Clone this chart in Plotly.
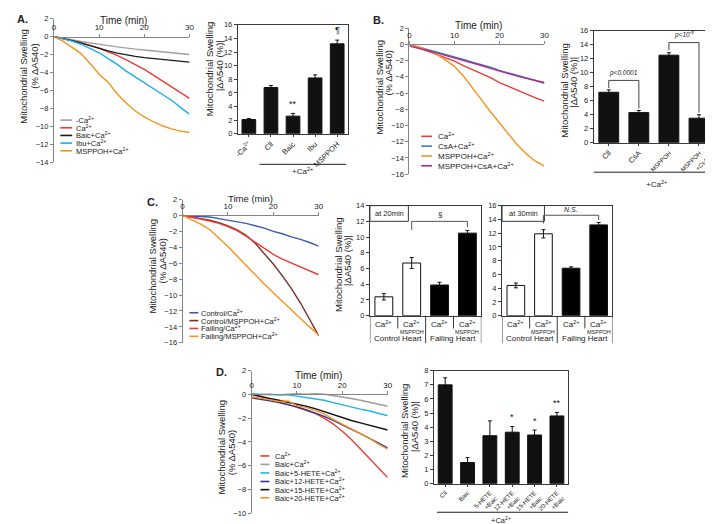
import plotly.graph_objects as go

W, H = 713, 524
FONT = "Liberation Sans, Arial, sans-serif"


def PX(x):
    return x / W


def PY(y):
    return 1 - y / H


# ------------------------------------------------------------------ data
time_min = [0, 2, 4, 6, 8, 10, 12, 14, 16, 18, 20, 22, 24, 26, 28, 30]

# Panel A – kinetics
a_labels = ["-Ca<sup>2+</sup>", "Ca<sup>2+</sup>", "Baic+Ca<sup>2+</sup>",
            "Ibu+Ca<sup>2+</sup>", "MSPPOH+Ca<sup>2+</sup>"]
a_colors = ["#a0a0a0", "#ee3b34", "#1c1c1c", "#1eaee4", "#f7921e"]
a_noca = [0, -0.15, -0.35, -0.55, -0.72, -0.9, -1.0, -1.15, -1.3, -1.4, -1.5, -1.6, -1.7, -1.8, -1.9, -2.0]
a_ca = [0, -0.2, -0.45, -0.7, -1.0, -1.3, -1.7, -2.1, -2.6, -3.1, -3.65, -4.3, -4.95, -5.6, -6.25, -6.9]
a_baic = [0, -0.2, -0.45, -0.7, -1.0, -1.35, -1.6, -1.85, -2.05, -2.2, -2.35, -2.45, -2.55, -2.65, -2.75, -2.85]
a_ibu = [0, -0.25, -0.5, -0.85, -1.3, -1.8, -2.45, -3.1, -3.85, -4.5, -5.2, -5.8, -6.4, -7.1, -7.9, -8.65]
a_msppoh = [0, -0.5, -1.2, -1.9, -3.0, -4.2, -5.1, -6.4, -7.4, -8.3, -8.95, -9.5, -9.95, -10.3, -10.55, -10.7]
a_series = [a_noca, a_ca, a_baic, a_ibu, a_msppoh]

# Panel A – bars
a_bar_cats = ["-Ca<sup>2+</sup>", "Cll", "Baic", "Ibu", "MSPPOH"]
a_bar_vals = [2.1, 6.8, 2.6, 8.2, 13.2]
a_bar_err = [0.15, 0.3, 0.4, 0.45, 0.55]
a_bar_marks = ["", "", "**", "", "¶"]

# Panel B – kinetics
b_labels = ["Ca<sup>2+</sup>", "CsA+Ca<sup>2+</sup>", "MSPPOH+Ca<sup>2+</sup>",
            "MSPPOH+CsA+Ca<sup>2+</sup>"]
b_colors = ["#ee3b34", "#3d7cc9", "#f7921e", "#b02c86"]
b_ca = [0, -0.4, -0.8, -1.2, -1.6, -2.05, -2.6, -3.1, -3.6, -4.1, -4.7, -5.2, -5.7, -6.1, -6.6, -7.0]
b_csa = [0, -0.3, -0.6, -0.95, -1.25, -1.55, -1.85, -2.2, -2.5, -2.8, -3.2, -3.5, -3.85, -4.15, -4.45, -4.8]
b_msppoh = [0, -0.3, -0.7, -1.2, -1.9, -2.7, -3.9, -5.3, -6.8, -8.3, -9.7, -11.0, -12.4, -13.5, -14.4, -15.0]
b_msppoh_csa = [-0.2, -0.45, -0.75, -1.05, -1.35, -1.65, -2.0, -2.3, -2.6, -2.95, -3.3, -3.6, -3.9, -4.2, -4.45, -4.7]
b_series = [b_ca, b_csa, b_msppoh, b_msppoh_csa]

# Panel B – bars
b_bar_cats = ["Cll", "CsA", "<span style='font-size:6px'>MSPPOH</span>",
              "<span style='font-size:6px'>MSPPOH<br>+CsA</span>"]
b_bar_vals = [7.2, 4.3, 12.5, 3.5]
b_bar_err = [0.35, 0.3, 0.35, 0.5]

# Panel C – kinetics
c_labels = ["Control/Ca<sup>2+</sup>", "Control/MSPPOH+Ca<sup>2+</sup>",
            "Failing/Ca<sup>2+</sup>", "Failing/MSPPOH+Ca<sup>2+</sup>"]
c_colors = ["#3a5dab", "#7a2e2b", "#ee3b34", "#f7921e"]
c_ctrl_ca = [0, -0.05, -0.1, -0.2, -0.4, -0.6, -0.8, -1.0, -1.3, -1.6, -2.0, -2.3, -2.7, -3.0, -3.4, -3.85]
c_ctrl_msppoh = [0, -0.2, -0.4, -0.6, -0.9, -1.3, -1.8, -2.5, -3.5, -4.8, -6.1, -7.6, -9.2, -11.0, -13.0, -15.1]
c_fail_ca = [0, -0.2, -0.45, -0.7, -1.0, -1.4, -1.9, -2.6, -3.4, -4.2, -4.9, -5.5, -6.0, -6.5, -7.0, -7.45]
c_fail_msppoh = [0, -0.5, -1.1, -1.8, -2.8, -3.9, -5.1, -6.3, -7.5, -8.6, -9.7, -10.8, -11.9, -13.0, -14.0, -15.0]
c_series = [c_ctrl_ca, c_ctrl_msppoh, c_fail_ca, c_fail_msppoh]

# Panel C – bars
c_bar_top = ["Ca<sup>2+</sup>", "Ca<sup>2+</sup>", "Ca<sup>2+</sup>", "Ca<sup>2+</sup>"]
c_bar_sub = ["", "MSPPOH", "", "MSPPOH"]
c_bar_colors = ["white", "white", "black", "black"]
c_groups = ["Control Heart", "Failing Heart"]
c20_vals = [2.4, 6.7, 3.9, 10.5]
c20_err = [0.4, 0.7, 0.35, 0.35]
c30_vals = [4.4, 11.9, 6.9, 13.2]
c30_err = [0.35, 0.6, 0.2, 0.35]

# Panel D – kinetics
d_labels = ["Ca<sup>2+</sup>", "Baic+Ca<sup>2+</sup>", "Baic+5-HETE+Ca<sup>2+</sup>",
            "Baic+12-HETE+Ca<sup>2+</sup>", "Baic+15-HETE+Ca<sup>2+</sup>",
            "Baic+20-HETE+Ca<sup>2+</sup>"]
d_colors = ["#ee3b34", "#9d9d9d", "#22b2e6", "#2f3b8f", "#111111", "#f7921e"]
d_ca = [0, -0.2, -0.4, -0.6, -0.85, -1.1, -1.35, -1.6, -2.0, -2.5, -3.1, -3.8, -4.6, -5.4, -6.2, -7.0]
d_baic = [0, -0.05, 0, -0.05, 0, 0.05, 0, 0.05, 0, -0.1, -0.2, -0.35, -0.5, -0.65, -0.8, -1.0]
d_h5 = [0.05, 0, 0, -0.05, -0.05, -0.15, -0.25, -0.35, -0.5, -0.7, -0.9, -1.05, -1.25, -1.4, -1.6, -1.8]
d_h12 = [-0.3, -0.4, -0.55, -0.7, -0.85, -1.05, -1.3, -1.55, -1.85, -2.2, -2.6, -2.95, -3.3, -3.7, -4.1, -4.5]
d_h15 = [0, -0.2, -0.35, -0.5, -0.65, -0.85, -1.0, -1.2, -1.45, -1.7, -2.0, -2.2, -2.4, -2.6, -2.8, -3.0]
d_h20 = [-0.2, -0.3, -0.45, -0.6, -0.55, -0.95, -1.1, -1.35, -1.65, -2.1, -2.5, -2.9, -3.3, -3.7, -4.2, -4.6]
d_series = [d_ca, d_baic, d_h5, d_h12, d_h15, d_h20]

# Panel D – bars
d_bar_cats = ["Cll", "Baic", "5-HETE<br>+Baic", "12-HETE<br>+Baic", "15-HETE<br>+Baic", "20-HETE<br>+Baic"]
d_bar_vals = [7.0, 1.5, 3.4, 3.65, 3.45, 4.8]
d_bar_err = [0.5, 0.35, 1.05, 0.4, 0.35, 0.25]
d_bar_marks = ["", "", "", "*", "*", "**"]

# ------------------------------------------------------------------ figure
fig = go.Figure()
layout = dict(width=W, height=H, margin=dict(l=0, r=0, t=0, b=0),
              paper_bgcolor="white", plot_bgcolor="rgba(0,0,0,0)",
              showlegend=False, font=dict(family=FONT, color="#222"))
shapes = []
annots = []
GREY = "#858585"
FRAME = "#3a3a3a"


def ann(text, x, y, size=8, xanchor="center", yanchor="middle", angle=0, **kw):
    annots.append(dict(text=text, x=PX(x), y=PY(y), xref="paper", yref="paper",
                       showarrow=False, font=dict(size=size, family=FONT, color=kw.pop("color", "#222")),
                       xanchor=xanchor, yanchor=yanchor, textangle=angle, **kw))


def line_panel(n, xpx, ypx, yrange, zero_px, series, colors):
    sx = "" if n == 1 else str(n)
    layout["xaxis" + sx] = dict(domain=[PX(xpx[0]), PX(xpx[1])], range=[0, 30], anchor="free",
                                position=PY(zero_px), side="top", showline=True, linecolor=GREY,
                                linewidth=1, ticks="outside", ticklen=3, tickcolor=GREY,
                                tickvals=[0, 10, 20, 30], tickfont=dict(size=8), showgrid=False,
                                zeroline=False)
    layout["yaxis" + sx] = dict(domain=[PY(ypx[1]), PY(ypx[0])], range=yrange, anchor="x" + sx,
                                showline=True, linecolor=GREY, linewidth=1, ticks="outside",
                                ticklen=3, tickcolor=GREY, dtick=2, tickfont=dict(size=7.5),
                                showgrid=False, zeroline=False)
    for s, c in zip(series, colors):
        fig.add_trace(go.Scatter(x=time_min, y=s, mode="lines", line=dict(color=c, width=1.4),
                                 xaxis="x" + sx, yaxis="y" + sx, hoverinfo="skip"))


def bar_panel(n, xpx, ypx, ytop, cats, vals, errs, colors, width, angle=-45, ticklabels=True,
              tickfont=7.5):
    sx = str(n)
    idx = list(range(len(cats)))
    layout["xaxis" + sx] = dict(domain=[PX(xpx[0]), PX(xpx[1])], range=[-0.5, len(cats) - 0.5],
                                anchor="y" + sx, showline=True, mirror=True, linecolor=FRAME,
                                linewidth=1, ticks="outside" if ticklabels else "", ticklen=2,
                                tickcolor=FRAME, tickvals=idx, ticktext=cats, tickangle=angle,
                                showticklabels=ticklabels, tickfont=dict(size=tickfont),
                                showgrid=False, zeroline=False)
    layout["yaxis" + sx] = dict(domain=[PY(ypx[1]), PY(ypx[0])], range=[0, ytop], anchor="x" + sx,
                                showline=True, mirror=True, linecolor=FRAME, linewidth=1,
                                ticks="outside", ticklen=3, tickcolor=FRAME, dtick=2,
                                tickfont=dict(size=7.5), showgrid=False, zeroline=False)
    fig.add_trace(go.Bar(x=idx, y=vals, width=width, xaxis="x" + sx, yaxis="y" + sx,
                         marker=dict(color=colors, line=dict(color="#111", width=1)),
                         error_y=dict(type="data", array=errs, visible=True, color="#111",
                                      thickness=1, width=2),
                         hoverinfo="skip"))


def legend(labels, colors, x0, x1, xt, ys, size=8):
    for lab, c, y in zip(labels, colors, ys):
        shapes.append(dict(type="line", xref="paper", yref="paper", x0=PX(x0), x1=PX(x1),
                           y0=PY(y), y1=PY(y), line=dict(color=c, width=1.6)))
        ann(lab, xt, y, size=size, xanchor="left")


def ytitle(line1, line2, x1, y1, x2, y2, size=9.5):
    ann(line1, x1, y1, size=size, angle=-90)
    ann(line2, x2, y2, size=size, angle=-90)


# ---- Panel A
line_panel(1, (41.5, 179), (6.8, 152.7), [-14, 2], 25, a_series, a_colors)
ann("Time (min)", 112, 8.5, size=10)
ytitle("Mitochondrial Swelling", "(% ΔA540)", 11, 65, 21, 55)
legend(a_labels, a_colors, 48, 60, 62, [110, 117.8, 125.6, 133.4, 141.2], size=7.5)
ann("<b>A.</b>", 2, 7, size=11, xanchor="left")

bar_panel(2, (228, 340), (13, 124), 16, a_bar_cats, a_bar_vals, a_bar_err, "#111", 0.62)
ytitle("Mitochondrial Swelling", "|ΔA540 (%)|", 199, 58, 209, 55)
for i, m in enumerate(a_bar_marks):
    if m:
        annots.append(dict(text=m, x=i, y=a_bar_vals[i] + a_bar_err[i] + 0.4, xref="x2", yref="y2",
                           showarrow=False, yanchor="bottom", font=dict(size=9, family=FONT, color="#111")))
shapes.append(dict(type="line", xref="paper", yref="paper", x0=PX(250), x1=PX(338),
                   y0=PY(155), y1=PY(155), line=dict(color="#222", width=1)))
ann("+Ca<sup>2+</sup>", 294, 162, size=8)

# ---- Panel B
line_panel(3, (402, 539), (16.5, 165), [-16, 2], 33, b_series, b_colors)
ann("Time (min)", 472, 14, size=10)
ytitle("Mitochondrial Swelling", "(% ΔA540)", 372, 76, 381, 62)
legend(b_labels, b_colors, 414, 425, 429, [126.5, 136.5, 146.5, 156.5])
ann("<b>B.</b>", 363, 8, size=11, xanchor="left")

bar_panel(4, (589, 711), (19, 133), 16, b_bar_cats, b_bar_vals, b_bar_err, "#111", 0.66)
ytitle("Mitochondrial Swelling", "|ΔA540 (%)|", 559, 80, 569, 72)
brackets_b = [(0, 1, 8.9, 7.8, 4.9, "p<0.0001"), (2, 3, 14.3, 13.2, 4.3, "p<10<sup>-6</sup>")]
for xa, xb, yt, ya, yb, txt in brackets_b:
    shapes.append(dict(type="path", xref="x4", yref="y4",
                       path=f"M {xa} {ya} L {xa} {yt} L {xb} {yt} L {xb} {yb}",
                       line=dict(color="#444", width=1)))
    annots.append(dict(text=f"<i>{txt}</i>", x=(xa + xb) / 2, y=yt + 0.2, xref="x4", yref="y4",
                       showarrow=False, yanchor="bottom", font=dict(size=6.5, family=FONT, color="#222")))
shapes.append(dict(type="line", xref="paper", yref="paper", x0=PX(589), x1=PX(710),
                   y0=PY(163), y1=PY(163), line=dict(color="#222", width=1)))
ann("+Ca<sup>2+</sup>", 653, 175, size=8)

# ---- Panel C
line_panel(5, (172, 310), (190.8, 336.6), [-16, 2], 207, c_series, c_colors)
ann("Time (min)", 241, 190, size=9.5)
ytitle("Mitochondrial Swelling", "(% ΔA540)", 142, 259, 152, 253)
legend(c_labels, c_colors, 179, 188, 189, [306, 314, 322, 330], size=7.5)
ann("<b>C.</b>", 134, 193, size=11, xanchor="left")

for n, xpx, ytop, vals, errs in [(6, (362, 475), 14, c20_vals, c20_err),
                                  (7, (496, 608), 16, c30_vals, c30_err)]:
    bar_panel(n, xpx, (197, 309), ytop, c_bar_top, vals, errs, c_bar_colors, 0.64, ticklabels=False)
    xr = "x" + str(n)
    for i in range(4):
        annots.append(dict(text=c_bar_top[i], x=i, y=PY(317), xref=xr, yref="paper", showarrow=False,
                           font=dict(size=8, family=FONT, color="#222")))
        if c_bar_sub[i]:
            annots.append(dict(text=c_bar_sub[i], x=i, y=PY(325.5), xref=xr, yref="paper",
                               showarrow=False, font=dict(size=5.5, family=FONT, color="#222")))
    for xs, yb in [(-0.5, 337), (0.5, 322), (1.5, 337), (2.5, 322), (3.5, 337)]:
        shapes.append(dict(type="line", xref=xr, yref="paper", x0=xs, x1=xs, y0=PY(309), y1=PY(yb),
                           line=dict(color=FRAME, width=1)))
    for gi, g in enumerate(c_groups):
        annots.append(dict(text=g, x=0.5 + 2 * gi, y=PY(332), xref=xr, yref="paper", showarrow=False,
                           font=dict(size=8, family=FONT, color="#222")))
ytitle("Mitochondrial Swelling", "|ΔA540 (%)|", 330, 257, 339, 253)
# "at 20min" / "at 30min" boxes
for x0, x1, txt in [(362, 401, "at 20min"), (496, 539, "at 30min")]:
    shapes.append(dict(type="rect", xref="paper", yref="paper", x0=PX(x0), x1=PX(x1),
                       y0=PY(213), y1=PY(197), line=dict(color=FRAME, width=1)))
    ann(txt, (x0 + x1) / 2, 205, size=7.5)
# brackets
shapes.append(dict(type="path", xref="x6", yref="y6", path="M 1 10.9 L 1 12 L 3 12 L 3 11.3",
                   line=dict(color="#555", width=1)))
annots.append(dict(text="§", x=2, y=12.1, xref="x6", yref="y6", showarrow=False, yanchor="bottom",
                   font=dict(size=8, family=FONT, color="#222")))
shapes.append(dict(type="path", xref="x7", yref="y7", path="M 1 13.4 L 1 14.6 L 3 14.6 L 3 13.9",
                   line=dict(color="#555", width=1)))
annots.append(dict(text="<i>N.S.</i>", x=2, y=14.6, xref="x7", yref="y7", showarrow=False,
                   yanchor="bottom", font=dict(size=7, family=FONT, color="#222")))

# ---- Panel D
line_panel(8, (242, 380), (364.8, 510), [-10, 2], 389, d_series, d_colors)
ann("Time (min)", 310, 370, size=10)
ytitle("Mitochondrial Swelling", "(% ΔA540)", 211, 443, 221, 448)
legend(d_labels, d_colors, 251, 260, 264, [451.7, 460.3, 469.0, 477.7, 486.0, 494.3], size=7.5)
ann("<b>D.</b>", 204, 366, size=11, xanchor="left")

bar_panel(9, (427, 563), (365, 480), 8, d_bar_cats, d_bar_vals, d_bar_err, "#111", 0.62, tickfont=6.2)
layout["yaxis9"]["dtick"] = 1
ytitle("Mitochondrial Swelling", "|ΔA540 (%)|", 397, 426, 407, 422)
for i, m in enumerate(d_bar_marks):
    if m:
        annots.append(dict(text=m, x=i, y=d_bar_vals[i] + d_bar_err[i] + 0.15, xref="x9", yref="y9",
                           showarrow=False, yanchor="bottom", font=dict(size=9, family=FONT, color="#111")))
shapes.append(dict(type="line", xref="paper", yref="paper", x0=PX(430), x1=PX(563),
                   y0=PY(509), y1=PY(509), line=dict(color="#222", width=1)))
ann("+Ca<sup>2+</sup>", 495, 517, size=7.5)

layout["shapes"] = shapes
layout["annotations"] = annots
fig.update_layout(**layout)
fig.write_html("out.html")
